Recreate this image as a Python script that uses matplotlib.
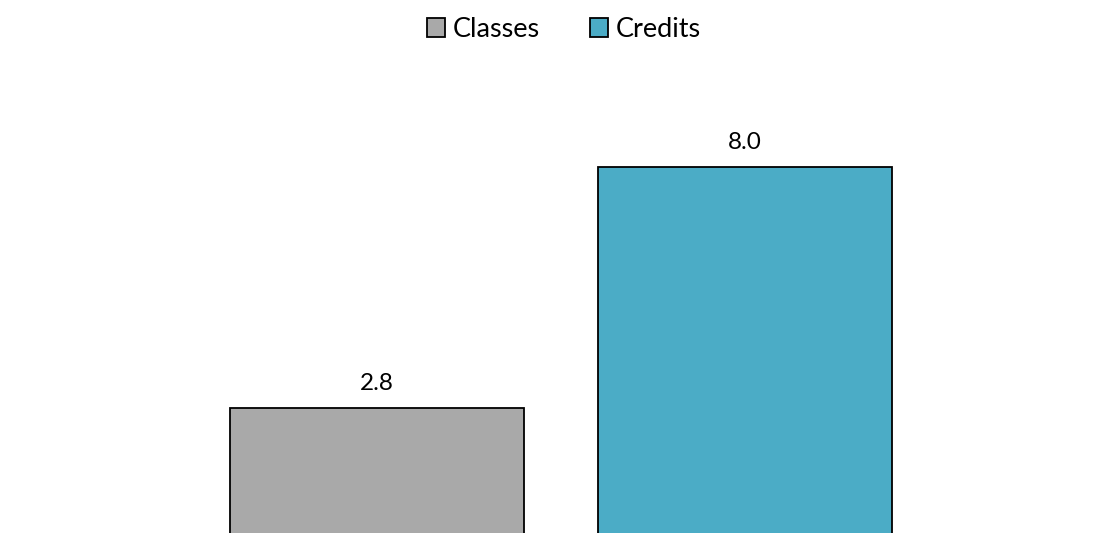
import matplotlib.pyplot as plt
from matplotlib.patches import Patch

categories = ["Classes", "Credits"]
values = [2.8, 8.0]
colors = ["#a9a9a9", "#4bacc6"]

plt.rcParams["font.family"] = ["Lato", "DejaVu Sans"]

fig = plt.figure(figsize=(11.05, 5.33), dpi=100)
ax = fig.add_axes([0, 0, 1, 1])

x = list(range(len(values)))
bars = ax.bar(x, values, width=0.8, color=colors, edgecolor="black", linewidth=1.3)
for b, v in zip(bars, values):
    ax.annotate(f"{v:.1f}", (b.get_x() + b.get_width() / 2, v),
                xytext=(0, 10), textcoords="offset points",
                ha="center", va="bottom", fontsize=17.5)

ax.set_xlim(-1.0245, 1.978)
ax.set_ylim(0.108, 11.61)
ax.axis("off")

handles = [Patch(facecolor=c, edgecolor="black", linewidth=1.3) for c in colors]
fig.legend(handles, categories, loc="upper center", bbox_to_anchor=(0.51, 0.999),
           ncol=2, frameon=False, fontsize=19.5, handlelength=0.68, handleheight=0.68,
           handletextpad=0.27, columnspacing=1.85, borderaxespad=0.2)

fig.savefig("out.png", dpi=100)
